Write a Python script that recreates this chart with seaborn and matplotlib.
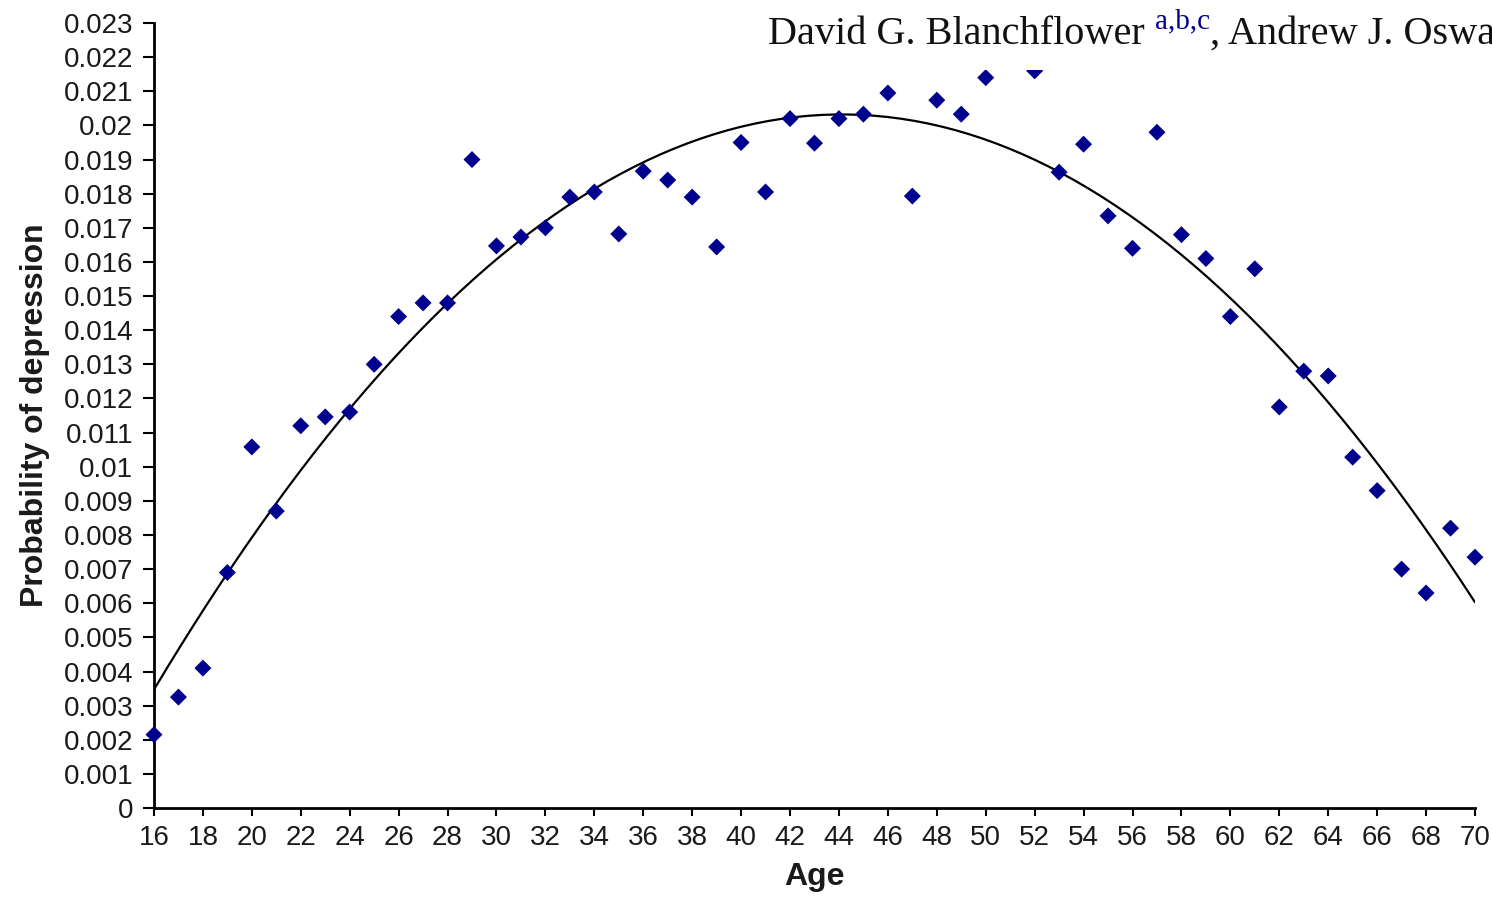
import numpy as np
import pandas as pd
import seaborn as sns
import matplotlib.pyplot as plt
from matplotlib.patches import Rectangle

# Data (age 51 hidden behind the header strip)
ages = [16, 17, 18, 19, 20, 21, 22, 23, 24, 25, 26, 27, 28, 29, 30, 31, 32, 33, 34, 35,
        36, 37, 38, 39, 40, 41, 42, 43, 44, 45, 46, 47, 48, 49, 50, 52, 53, 54, 55, 56,
        57, 58, 59, 60, 61, 62, 63, 64, 65, 66, 67, 68, 69, 70]
prob = [0.00215, 0.00325, 0.0041, 0.0069, 0.01058, 0.0087, 0.0112, 0.01146, 0.0116, 0.0130,
        0.0144, 0.0148, 0.0148, 0.0190, 0.01647, 0.01673, 0.0170, 0.0179, 0.01805, 0.01682,
        0.01866, 0.0184, 0.0179, 0.01644, 0.0195, 0.01805, 0.0202, 0.01948, 0.0202, 0.02033,
        0.02095, 0.01793, 0.02074, 0.02033, 0.0214, 0.0216, 0.01863, 0.01945, 0.01735, 0.0164,
        0.0198, 0.0168, 0.0161, 0.0144, 0.0158, 0.01175, 0.0128, 0.01266, 0.01028, 0.0093,
        0.0070, 0.0063, 0.0082, 0.00735]
xticks = list(range(16, 71, 2))
yticks = [i / 1000 for i in range(0, 24)]

df = pd.DataFrame({"Age": ages, "Probability of depression": prob})

sns.set_style("ticks")
plt.rcParams["font.family"] = ["Liberation Sans", "DejaVu Sans"]

fig = plt.figure(figsize=(14.92, 9), dpi=100)
ax = fig.add_axes([0.1032, 0.1022, 0.8854, 0.8722])

# quadratic trend line
sns.regplot(data=df, x="Age", y="Probability of depression", order=2, ci=None,
            scatter=False, truncate=True, ax=ax,
            line_kws=dict(color="black", lw=1.6))
sns.scatterplot(data=df, x="Age", y="Probability of depression", marker="D", s=75,
                color="#00008f", edgecolor="none", ax=ax, clip_on=False, zorder=4)

ax.set_xlim(16, 70)
ax.set_ylim(0, 0.023)
ax.set_xticks(xticks)
ax.set_yticks(yticks)
ax.set_yticklabels([f"{round(v, 3):g}" for v in yticks])
ax.tick_params(axis="both", labelsize=20, direction="out", width=1.5, color="black",
               labelcolor="#1a1a1a")
ax.tick_params(axis="y", length=8, pad=7)
ax.tick_params(axis="x", length=6, pad=6)
for s in ["top", "right"]:
    ax.spines[s].set_visible(False)
for s in ["left", "bottom"]:
    ax.spines[s].set_linewidth(2)
    ax.spines[s].set_color("black")

ax.set_xlabel("Age", fontsize=23, fontweight="bold", color="#1a1a1a", labelpad=8)
ax.set_ylabel("Probability of depression", fontsize=23, fontweight="bold", color="#1a1a1a",
              labelpad=10)

# header strip from the page, drawn over the plot (runs off the right edge as in the scan)
fig.patches.append(Rectangle((0.505, 0.922), 0.5, 0.08, transform=fig.transFigure,
                             facecolor="white", edgecolor="none", zorder=5))
serif = dict(family="Liberation Serif", zorder=6, va="baseline")
W = fig.get_figwidth() * fig.dpi
t1 = fig.text(0.5147, 0.951, "David G. Blanchflower ", fontsize=29, color="#111111", **serif)
fig.canvas.draw()
r = fig.canvas.get_renderer()
x_sup = t1.get_window_extent(r).x1 / W
sup = fig.text(x_sup, 0.969, "a,b,c", fontsize=21, color="#00008f", **serif)
fig.canvas.draw()
x_rest = sup.get_window_extent(r).x1 / W
fig.text(x_rest, 0.951, ", Andrew J. Oswald", fontsize=29, color="#111111", **serif)

fig.savefig("out.png", dpi=100)
